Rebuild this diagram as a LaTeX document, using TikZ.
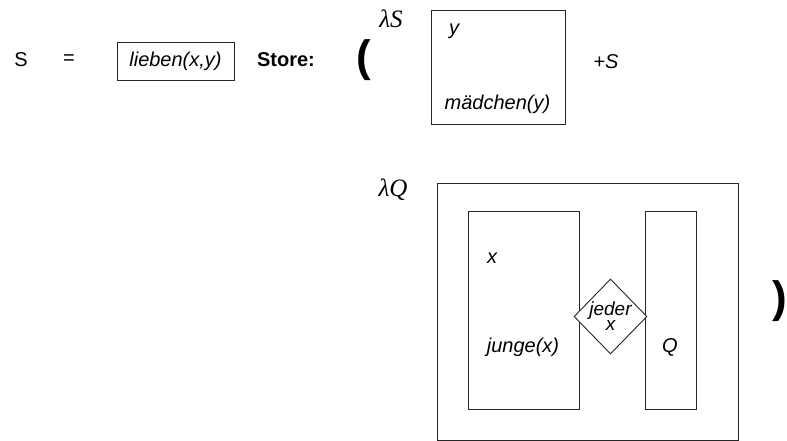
\documentclass[tikz,border=0pt]{standalone}
\usepackage{fontspec}
\setmainfont{Liberation Sans}
\newfontfamily\seriffont{Liberation Serif}
\usetikzlibrary{shapes.geometric}
\begin{document}
\begin{tikzpicture}[x=1pt,y=-1pt,
  lbl/.style={inner sep=0pt, font=\fontsize{20}{23}\selectfont},
  itl/.style={inner sep=0pt, font=\fontsize{20}{23}\selectfont\itshape},
  frame/.style={draw=black!85, line width=0.9pt, inner sep=0pt},
  greek/.style={inner sep=0pt, font=\fontsize{25}{28}\selectfont\seriffont\itshape},
  paren/.style={inner sep=0pt, font=\fontsize{44}{44}\selectfont\bfseries}]
\useasboundingbox (0,0) rectangle (787,441);

% top line
\node[lbl] (s) at (21,60) {S};
\node[lbl] (eq) at (69,60) {=};
\node[frame, itl, minimum width=117pt, minimum height=38pt] (lieben) at (175.5,61) {lieben(x,y)};
\node[lbl, font=\fontsize{20}{23}\selectfont\bfseries] (store) at (286,60) {Store:};
\node[paren] (lpar) at (364,60) {(};
\node[greek] (lamS) at (391,19) {λS};
\node[frame, minimum width=134pt, minimum height=114pt] (ybox) at (498,67) {};
\node[itl] (y) at (454,31) {y};
\node[itl] (maedchen) at (497.5,104) {mädchen(y)};
\node[itl] (plusS) at (606,62) {+S};

% bottom part
\node[greek] (lamQ) at (393,190) {λQ};
\node[frame, minimum width=301pt, minimum height=257pt] (outer) at (587.5,311.5) {};
\node[frame, minimum width=111pt, minimum height=198pt] (left) at (523.5,310) {};
\node[frame, minimum width=51pt, minimum height=198pt] (right) at (670.5,310) {};
\node[frame, diamond, fill=white, minimum width=73pt, minimum height=75pt, align=center,
      font=\fontsize{19}{15}\selectfont\itshape] (jeder) at (610.5,316.5) {jeder\\x};
\node[itl] (x) at (492,258) {x};
\node[itl] (junge) at (523,347) {junge(x)};
\node[itl] (q) at (670,347) {Q};
\node[paren] (rpar) at (780,301) {)};
\end{tikzpicture}
\end{document}
